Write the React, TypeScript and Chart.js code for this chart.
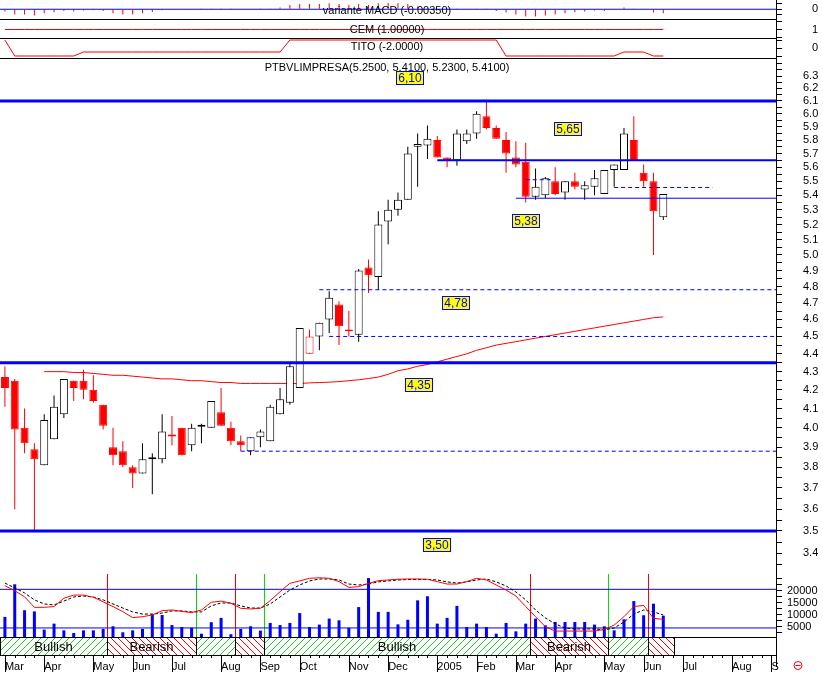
import React, { useEffect, useRef } from 'react';
import { Chart, registerables } from 'chart.js';

Chart.register(...registerables);

// ---------------- data (weekly, index 0 = first week of March 2004) ----------------
const OPEN = [
  4.27, 4.25, 4.00, 3.89, 3.81, 3.94, 4.07, 4.25, 4.25, 4.20,
  4.12, 3.90, 3.88, 3.80, 3.77, 3.84, 3.84, 3.965, 4.00, 3.91,
  4.005, 4.00, 4.08, 4.00, 3.93, 3.88, 3.95, 3.93, 4.07, 4.13,
  4.21, 4.40, 4.50, 4.60, 4.69, 4.54, 4.51, 4.92, 4.86, 5.22,
  5.30, 5.37, 5.75, 5.76, 5.80, 5.67, 5.65, 5.79, 5.85, 5.98,
  5.89, 5.80, 5.67, 5.64, 5.39, 5.40, 5.50, 5.42, 5.50, 5.44,
  5.46, 5.41, 5.58, 5.58, 5.80, 5.56, 5.50, 5.25,
];
const HIGH = [
  4.33, 4.26, 4.10, 3.92, 4.07, 4.17, 4.26, 4.25, 4.31, 4.28,
  4.12, 4.00, 3.93, 3.81, 3.92, 3.87, 4.07, 4.06, 4.00, 4.02,
  4.02, 4.14, 4.21, 4.03, 3.96, 3.95, 3.99, 4.12, 4.21, 4.35,
  4.55, 4.54, 4.58, 4.77, 4.71, 4.65, 4.91, 4.97, 5.29, 5.37,
  5.42, 5.75, 5.85, 5.91, 5.83, 5.67, 5.88, 5.88, 6.02, 6.11,
  5.91, 5.86, 5.79, 5.78, 5.59, 5.53, 5.60, 5.50, 5.56, 5.50,
  5.58, 5.58, 5.62, 5.89, 5.98, 5.62, 5.56, 5.41,
];
const LOW = [
  4.11, 3.60, 3.87, 3.50, 3.81, 3.94, 4.05, 4.14, 4.15, 4.13,
  3.99, 3.81, 3.80, 3.70, 3.77, 3.67, 3.82, 3.91, 3.86, 3.88,
  3.92, 4.00, 4.01, 3.91, 3.88, 3.86, 3.90, 3.93, 4.07, 4.12,
  4.21, 4.40, 4.42, 4.52, 4.45, 4.50, 4.47, 4.76, 4.78, 5.07,
  5.26, 5.37, 5.46, 5.66, 5.67, 5.60, 5.61, 5.77, 5.81, 5.88,
  5.81, 5.56, 5.60, 5.35, 5.37, 5.38, 5.40, 5.37, 5.44, 5.37,
  5.40, 5.41, 5.46, 5.58, 5.65, 5.46, 5.00, 5.23,
];
const CLOSE = [
  4.21, 3.99, 3.92, 3.84, 4.04, 4.11, 4.26, 4.21, 4.20, 4.14,
  4.01, 3.86, 3.81, 3.77, 3.84, 3.85, 3.98, 3.955, 3.86, 4.00,
  4.015, 4.14, 4.01, 3.93, 3.91, 3.95, 3.98, 4.11, 4.15, 4.33,
  4.55, 4.50, 4.58, 4.73, 4.56, 4.53, 4.90, 4.87, 5.20, 5.30,
  5.37, 5.70, 5.77, 5.81, 5.67, 5.65, 5.85, 5.85, 6.00, 5.89,
  5.81, 5.70, 5.62, 5.39, 5.46, 5.52, 5.41, 5.50, 5.46, 5.47,
  5.52, 5.58, 5.62, 5.85, 5.65, 5.50, 5.29, 5.41,
];
const MA_FIRST_WEEK = 4;
const MOVING_AVG = [
  4.30, 4.30, 4.30, 4.295, 4.295, 4.29, 4.285, 4.28, 4.28, 4.275,
  4.27, 4.265, 4.26, 4.26, 4.255, 4.25, 4.25, 4.245, 4.24, 4.24,
  4.235, 4.235, 4.235, 4.235, 4.235, 4.235, 4.235, 4.238, 4.24, 4.242,
  4.245, 4.25, 4.255, 4.262, 4.27, 4.285, 4.305, 4.315, 4.33, 4.34,
  4.355, 4.37, 4.385, 4.40, 4.42, 4.435, 4.45, 4.46, 4.47, 4.48,
  4.49, 4.50, 4.51, 4.52, 4.53, 4.54, 4.55, 4.56, 4.57, 4.58,
  4.59, 4.60, 4.61, 4.615,
];
const VOLUME = [
  9200, 22800, 12000, 11500, 3900, 6400, 3600, 2500, 3600, 3600,
  4200, 5300, 2800, 3600, 4200, 10300, 10000, 5800, 5000, 4700,
  2200, 7000, 8800, 2000, 4200, 5300, 3500, 6700, 5800, 6700,
  10800, 5000, 6000, 8500, 7800, 4700, 13300, 25400, 11300, 11300,
  6100, 8000, 16100, 17800, 6400, 8800, 13800, 5000, 6400, 5000,
  2200, 6700, 3200, 6400, 8500, 5700, 7100, 7100, 7100, 7100,
  6000, 5300, 3600, 8200, 15800, 9900, 14700, 9700,
];
const OSC_FAST = [
  22200, 20100, 17600, 13200, 13200, 13500, 17000, 18300, 18300, 17400,
  15500, 13500, 11400, 8900, 9300, 10000, 11800, 12100, 11500, 11000,
  12100, 15300, 15800, 14900, 12800, 12500, 12800, 16000, 19700, 23200,
  24200, 25300, 25500, 25300, 23900, 21500, 21800, 23200, 24300, 24600,
  24900, 25000, 25000, 24900, 23900, 22900, 22900, 23900, 25300, 24600,
  22500, 20400, 17900, 13500, 9300, 5100, 3300, 3300, 3300, 3300,
  3300, 4000, 5800, 9300, 13500, 14000, 8600, 8200,
];
const OSC_SLOW = [
  23300, 21300, 19200, 16300, 14600, 14200, 15800, 17500, 17900, 17500,
  16300, 14600, 12900, 11300, 10400, 10400, 10800, 11700, 11700, 11300,
  11300, 13800, 15000, 15000, 13800, 12900, 12900, 14600, 17500, 20400,
  22500, 24200, 25000, 25000, 24600, 22900, 22500, 22900, 23800, 24200,
  24600, 24800, 24800, 24800, 24600, 23800, 23300, 23800, 24600, 25000,
  23800, 22100, 19600, 16300, 12100, 8800, 6300, 4600, 4200, 4200,
  4200, 3800, 4600, 7100, 10400, 12100, 11300, 10000,
];
const VOL_LEVELS = [20700, 4600];
const MACD_HIST = [
  -0.0020, -0.0046, -0.0046, -0.0055, -0.0035, -0.0026, -0.0015, -0.0020, -0.0011, -0.0009,
  -0.0015, -0.0035, -0.0046, -0.0046, -0.0035, -0.0024, -0.0009, -0.0006, -0.0004, -0.0003,
  0.0001, 0.0006, 0.0003, 0.0001, -0.0006, -0.0003, 0.0001, 0.0003, 0.0015, 0.0038,
  0.0046, 0.0046, 0.0046, 0.0052, 0.0046, 0.0038, 0.0046, 0.0038, 0.0052, 0.0055,
  0.0052, 0.0046, 0.0024, 0.0010, 0.0004, 0.0006, 0.0006, 0.0004, 0.0003, 0.0001,
  -0.0015, -0.0029, -0.0046, -0.0064, -0.0064, -0.0055, -0.0046, -0.0035, -0.0026, -0.0020,
  -0.0011, -0.0015, -0.0003, 0.0015, 0.0006, -0.0006, -0.0029, -0.0035,
];
const CEM = [
  1, 1, 1, 1, 1, 1, 1, 1, 1, 1, 1, 1, 1, 1, 1, 1, 1, 1, 1, 1,
  1, 1, 1, 1, 1, 1, 1, 1, 1, 1, 1, 1, 1, 1, 1, 1, 1, 1, 1, 1,
  1, 1, 1, 1, 1, 1, 1, 1, 1, 1, 1, 1, 1, 1, 1, 1, 1, 1, 1, 1,
  1, 1, 1, 1, 1, 1, 1, 1,
];
const TITO = [
  2, -2, -2, -2, -2, -2, -2, -2,
  -1, -1, -1, -1, -1, -1, -1, -1, -1, -1, -1, -1, -1, -1, -1, -1, -1, -1, -1, -1, -1,
  2, 2, 2, 2, 2, 2, 2, 2, 2, 2, 2, 2, 2, 2, 2, 2, 2, 2, 2, 2, 2, 2,
  -2, -2, -2, -2, -2, -2, -2, -2, -2, -2, -2, -2,
  -1, -1, -1,
  -2, -2,
];
const MONTH_TICKS = [0, 4, 9, 13, 17, 22, 26, 30, 35, 39, 44, 48, 52, 56, 61, 65, 69, 74, 78];
const MONTH_LABELS = ['Mar', 'Apr', 'May', 'Jun', 'Jul', 'Aug', 'Sep', 'Oct', 'Nov', 'Dec', '2005', 'Feb', 'Mar', 'Apr', 'May', 'Jun', 'Jul', 'Aug', 'S'];
const PRICE_LABELS = [
  '3.4', '3.5', '3.6', '3.7', '3.8', '3.9', '4.0', '4.1', '4.2', '4.3',
  '4.4', '4.5', '4.6', '4.7', '4.8', '4.9', '5.0', '5.1', '5.2', '5.3',
  '5.4', '5.5', '5.6', '5.7', '5.8', '5.9', '6.0', '6.1', '6.2', '6.3',
];
const VOL_TICKS = [2500, 5000, 7500, 10000, 12500, 15000, 17500, 20000, 22500, 25000];
const VOL_LABELS = ['5000', '10000', '15000', '20000'];
const LEVEL_PRICES = [6.1, 5.65, 5.38, 4.35, 3.5];
const LEVEL_FROM = [-0.5, 44, 52, -0.5, -0.5];
const DASH_PRICES = [4.78, 4.5, 3.88, 5.51, 5.455];
const DASH_FROM = [32, 33, 24, 53, 62];
const DASH_TO = [78.47, 78.47, 78.47, 55.8, 72];
const TAG_TEXT = ['6,10', '5,65', '5,38', '4,78', '4,35', '3,50'];
const TAG_PRICE = [6.1, 5.65, 5.38, 4.78, 4.35, 3.5];
const TAG_WEEK = [41.2, 57.3, 53.0, 45.9, 42.1, 44.0];
const TREND_BOUNDS = [-0.5, 10.4, 19.4, 23.4, 26.4, 53.4, 61.4, 65.4, 68.1];
const TREND_STATE = ['Bullish', 'Bearish', 'Bullish', 'Bearish', 'Bullish', 'Bearish', 'Bullish', 'Bearish'];

// ---------------- layout / style ----------------
const FONT = '"Liberation Sans", Arial, Helvetica, sans-serif';
const X_MIN = -0.5;
const X_MAX = 78.47;
const AXIS_W = 47;
const RED = '#FF0000';
const BLUE = '#0000FF';
const BLACK = '#000000';
const LEVEL_WIDTH = [3, 2, 1, 3, 3];
const TAG_DY = [-23, -31.5, 23, 13.5, 22, 14];
const WEEKS = OPEN.map((_, i) => i);
const PRICE_TICKS = [3.35, ...PRICE_LABELS.flatMap((s) => [Number(s), Number(s) + 0.05]), 6.4];

const baseOptions = (scales: any) => ({
  responsive: false,
  maintainAspectRatio: false,
  animation: false,
  events: [],
  layout: { padding: 0, autoPadding: false },
  plugins: { legend: { display: false }, tooltip: { enabled: false }, title: { display: false } },
  datasets: { bar: { grouped: false, inflateAmount: 0 } },
  scales,
});

const hiddenX = () => ({ type: 'linear', min: X_MIN, max: X_MAX, display: false, offset: false, bounds: 'data' });

const rightAxis = (o: any) => ({
  type: o.type || 'linear',
  position: 'right',
  min: o.min,
  max: o.max,
  bounds: 'data',
  offset: false,
  afterBuildTicks: (s: any) => {
    s.ticks = o.ticks.map((v: number) => ({ value: v }));
  },
  afterFit: (s: any) => {
    s.width = AXIS_W;
    s.paddingTop = 0;
    s.paddingBottom = 0;
  },
  grid: { drawOnChartArea: false, drawTicks: true, tickLength: 6, tickColor: BLACK, tickWidth: 1 },
  border: { display: true, color: BLACK, width: 1 },
  ticks: {
    autoSkip: false,
    crossAlign: 'near',
    padding: o.padding,
    color: BLACK,
    font: { family: FONT, size: 11 },
    callback: (v: any) => o.label(Number(v)),
  },
});

const panelRule = {
  id: 'panelRule',
  afterDraw(chart: any) {
    const { ctx, chartArea: a } = chart;
    ctx.save();
    ctx.strokeStyle = BLACK;
    ctx.lineWidth = 1;
    ctx.beginPath();
    ctx.moveTo(0, a.bottom - 0.5);
    ctx.lineTo(a.right, a.bottom - 0.5);
    ctx.stroke();
    ctx.restore();
  },
};

const caption = (text: string, y: number) => ({
  id: 'caption',
  afterDraw(chart: any) {
    const { ctx, chartArea: a } = chart;
    ctx.save();
    ctx.font = `11px ${FONT}`;
    ctx.fillStyle = BLACK;
    ctx.textAlign = 'center';
    ctx.textBaseline = 'middle';
    ctx.fillText(text, (a.left + a.right) / 2 - 1, y);
    ctx.restore();
  },
});

const levelTags = {
  id: 'levelTags',
  afterDatasetsDraw(chart: any) {
    const { ctx, scales } = chart;
    ctx.save();
    ctx.font = `12px ${FONT}`;
    TAG_TEXT.forEach((t, k) => {
      const cx = scales.x.getPixelForValue(TAG_WEEK[k]);
      const cy = scales.y.getPixelForValue(TAG_PRICE[k]) + TAG_DY[k];
      const w = Math.round(ctx.measureText(t).width) + 5;
      const h = 14;
      const bx = Math.round(cx - w / 2);
      const by = Math.round(cy - h / 2);
      ctx.fillStyle = '#FFFF00';
      ctx.fillRect(bx, by, w, h);
      ctx.strokeStyle = BLUE;
      ctx.lineWidth = 1;
      ctx.strokeRect(bx + 0.5, by + 0.5, w - 1, h - 1);
      ctx.fillStyle = BLUE;
      ctx.textAlign = 'center';
      ctx.textBaseline = 'middle';
      ctx.fillText(t, bx + w / 2, by + h / 2 + 0.5);
    });
    ctx.restore();
  },
};

const signalLines = {
  id: 'signalLines',
  beforeDatasetsDraw(chart: any) {
    const { ctx, chartArea: a, scales } = chart;
    ctx.save();
    ctx.lineWidth = 1;
    for (let k = 1; k < TREND_BOUNDS.length - 1; k++) {
      const px = Math.round(scales.x.getPixelForValue(TREND_BOUNDS[k])) + 0.5;
      ctx.strokeStyle = TREND_STATE[k] === 'Bearish' ? RED : '#00E000';
      ctx.beginPath();
      ctx.moveTo(px, a.top);
      ctx.lineTo(px, a.bottom);
      ctx.stroke();
    }
    ctx.restore();
  },
};

const trendBand = {
  id: 'trendBand',
  afterDraw(chart: any) {
    const { ctx, chartArea: a, scales } = chart;
    const xs = scales.x;
    const top = Math.round(a.bottom);
    const bot = top + 18;
    const h = bot - top;
    ctx.save();
    ctx.lineWidth = 1;
    for (let k = 0; k < TREND_STATE.length; k++) {
      const x0 = Math.round(xs.getPixelForValue(TREND_BOUNDS[k]));
      const x1 = Math.round(xs.getPixelForValue(TREND_BOUNDS[k + 1]));
      const bull = TREND_STATE[k] === 'Bullish';
      ctx.save();
      ctx.beginPath();
      ctx.rect(x0, top, x1 - x0, h);
      ctx.clip();
      ctx.strokeStyle = bull ? '#22CC22' : RED;
      for (let sx = x0 - h; sx < x1 + h; sx += 7) {
        ctx.beginPath();
        if (bull) {
          ctx.moveTo(sx, bot);
          ctx.lineTo(sx + h, top);
        } else {
          ctx.moveTo(sx, top);
          ctx.lineTo(sx + h, bot);
        }
        ctx.stroke();
      }
      ctx.restore();
      ctx.strokeStyle = BLACK;
      ctx.strokeRect(x0 + 0.5, top + 0.5, x1 - x0, h);
      ctx.font = `13px ${FONT}`;
      const tw = ctx.measureText(TREND_STATE[k]).width;
      if (x1 - x0 > tw + 8) {
        ctx.fillStyle = BLACK;
        ctx.textAlign = 'center';
        ctx.textBaseline = 'middle';
        ctx.fillText(TREND_STATE[k], (x0 + x1) / 2, (top + bot) / 2 + 1);
      }
    }
    // frame lines of the band row
    ctx.strokeStyle = BLACK;
    ctx.beginPath();
    ctx.moveTo(0, top + 0.5);
    ctx.lineTo(a.right, top + 0.5);
    ctx.moveTo(0, bot + 0.5);
    ctx.lineTo(a.right, bot + 0.5);
    ctx.stroke();
    // weekly and monthly tick marks
    ctx.beginPath();
    for (let w = 0; w <= Math.floor(X_MAX); w++) {
      const px = Math.round(xs.getPixelForValue(w)) + 0.5;
      const len = MONTH_TICKS.includes(w) ? 17 : 3;
      ctx.moveTo(px, bot);
      ctx.lineTo(px, bot + len);
    }
    ctx.stroke();
    // axis line extension
    const ax = Math.round(scales.y.left) + 0.5;
    ctx.beginPath();
    ctx.moveTo(ax, a.bottom);
    ctx.lineTo(ax, bot + 12);
    ctx.stroke();
    // small red marker
    ctx.strokeStyle = RED;
    ctx.beginPath();
    ctx.arc(798, bot + 10.5, 4, 0, Math.PI * 2);
    ctx.moveTo(795.5, bot + 10.5);
    ctx.lineTo(800.5, bot + 10.5);
    ctx.stroke();
    ctx.restore();
  },
};

// ---------------- chart configs ----------------
function macdConfig() {
  return {
    type: 'bar',
    data: {
      datasets: [
        { type: 'line', data: [{ x: X_MIN, y: 0 }, { x: X_MAX, y: 0 }], borderColor: BLUE, borderWidth: 1, pointRadius: 0, order: 0 },
        { type: 'bar', data: MACD_HIST.map((v, i) => ({ x: i, y: v })), backgroundColor: RED, borderWidth: 0, barThickness: 1, inflateAmount: 0, order: 1 },
      ],
    },
    options: baseOptions({
      x: hiddenX(),
      y: rightAxis({ min: -0.0094, max: 0.0081, ticks: [-0.005, 0, 0.005], label: (v: number) => (v === 0 ? '0' : ''), padding: 30 }),
    }),
    plugins: [panelRule, caption('variante MACD (-0.00350)', 10.5)],
  };
}

function cemConfig() {
  return {
    type: 'line',
    data: {
      datasets: [
        { data: CEM.map((v, i) => ({ x: i, y: v })), borderColor: RED, borderWidth: 1, pointRadius: 0 },
      ],
    },
    options: baseOptions({
      x: hiddenX(),
      y: rightAxis({ min: 0, max: 2, ticks: [0.2, 1, 1.8], label: (v: number) => (v === 1 ? '1' : ''), padding: 30 }),
    }),
    plugins: [panelRule, caption('CEM (1.00000)', 9.5)],
  };
}

function titoConfig() {
  return {
    type: 'line',
    data: {
      datasets: [
        { data: TITO.map((v, i) => ({ x: i, y: v })), borderColor: RED, borderWidth: 1, pointRadius: 0 },
      ],
    },
    options: baseOptions({
      x: hiddenX(),
      y: rightAxis({ min: -2.75, max: 2.25, ticks: [-2, 0, 2], label: (v: number) => (v === 0 ? '0' : ''), padding: 30 }),
    }),
    plugins: [panelRule, caption('TITO (-2.0000)', 8)],
  };
}

function priceConfig() {
  const prevClose = (i: number) => (i > 0 ? CLOSE[i - 1] : OPEN[i]);
  const tone = WEEKS.map((i) => (CLOSE[i] < prevClose(i) ? RED : BLACK));
  const fill = WEEKS.map((i) => (CLOSE[i] >= OPEN[i] ? '#FFFFFF' : tone[i]));
  const levelSets = LEVEL_PRICES.map((p, k) => ({
    type: 'line',
    data: [{ x: LEVEL_FROM[k], y: p }, { x: X_MAX, y: p }],
    borderColor: BLUE,
    borderWidth: LEVEL_WIDTH[k],
    pointRadius: 0,
    order: 0,
  }));
  const dashSets = DASH_PRICES.map((p, k) => ({
    type: 'line',
    data: [{ x: DASH_FROM[k], y: p }, { x: DASH_TO[k], y: p }],
    borderColor: BLUE,
    borderWidth: 1,
    borderDash: [4, 3],
    pointRadius: 0,
    order: 0,
  }));
  return {
    type: 'bar',
    data: {
      datasets: [
        ...levelSets,
        ...dashSets,
        {
          type: 'bar',
          data: WEEKS.map((i) => ({ x: i, y: [OPEN[i], CLOSE[i]] })),
          backgroundColor: fill,
          borderColor: tone,
          borderWidth: 1,
          borderSkipped: false,
          barThickness: 8,
          inflateAmount: 0,
          order: 1,
        },
        {
          type: 'bar',
          data: WEEKS.map((i) => ({ x: i, y: [LOW[i], HIGH[i]] })),
          backgroundColor: tone,
          borderWidth: 0,
          barThickness: 1,
          inflateAmount: 0,
          order: 2,
        },
        {
          type: 'line',
          data: MOVING_AVG.map((v, k) => ({ x: k + MA_FIRST_WEEK, y: v })),
          borderColor: RED,
          borderWidth: 1,
          pointRadius: 0,
          order: 3,
        },
      ],
    },
    options: baseOptions({
      x: hiddenX(),
      y: rightAxis({
        type: 'logarithmic',
        min: 3.3108,
        max: 6.44,
        ticks: PRICE_TICKS,
        label: (v: number) => {
          const s = v.toFixed(1);
          return Math.abs(v - Number(s)) < 1e-6 && PRICE_LABELS.includes(s) ? s : '';
        },
        padding: 21,
      }),
    }),
    plugins: [caption('PTBVLIMPRESA(5.2500, 5.4100, 5.2300, 5.4100)', 8.5), levelTags],
  };
}

function volumeConfig() {
  return {
    type: 'bar',
    data: {
      datasets: [
        { type: 'line', data: OSC_FAST.map((v, i) => ({ x: i, y: v })), borderColor: RED, borderWidth: 1, pointRadius: 0, order: 0 },
        { type: 'line', data: OSC_SLOW.map((v, i) => ({ x: i, y: v })), borderColor: BLACK, borderWidth: 1, borderDash: [3, 2], pointRadius: 0, order: 1 },
        ...VOL_LEVELS.map((v) => ({
          type: 'line',
          data: [{ x: X_MIN, y: v }, { x: X_MAX, y: v }],
          borderColor: BLUE,
          borderWidth: 1,
          pointRadius: 0,
          order: 2,
        })),
        { type: 'bar', data: VOLUME.map((v, i) => ({ x: i, y: v })), backgroundColor: BLUE, borderWidth: 0, barThickness: 3, inflateAmount: 0, order: 3 },
      ],
    },
    options: baseOptions({
      x: {
        type: 'linear',
        min: X_MIN,
        max: X_MAX,
        position: 'bottom',
        offset: false,
        bounds: 'data',
        afterBuildTicks: (s: any) => {
          s.ticks = MONTH_TICKS.map((v) => ({ value: v }));
        },
        afterFit: (s: any) => {
          s.height = 36;
          s.paddingLeft = 0;
          s.paddingRight = 0;
        },
        grid: { display: false, drawTicks: false, tickLength: 0, drawOnChartArea: false },
        border: { display: false },
        ticks: {
          autoSkip: false,
          maxRotation: 0,
          minRotation: 0,
          align: 'start',
          padding: 23,
          color: BLACK,
          font: { family: FONT, size: 11 },
          callback: (v: any) => {
            const k = MONTH_TICKS.indexOf(Number(v));
            return k >= 0 ? MONTH_LABELS[k] : '';
          },
        },
      },
      y: rightAxis({
        min: 833,
        max: 27083,
        ticks: VOL_TICKS,
        label: (v: number) => (VOL_LABELS.includes(String(v)) ? String(v) : ''),
        padding: 5,
      }),
    }),
    plugins: [signalLines, trendBand],
  };
}

function ChartCanvas({ top, height, build }: { top: number; height: number; build: () => any }) {
  const ref = useRef<HTMLCanvasElement>(null);
  useEffect(() => {
    const chart = new Chart(ref.current as HTMLCanvasElement, build());
    return () => chart.destroy();
  }, []);
  return (
    <canvas
      ref={ref}
      width={823}
      height={height}
      style={{ position: 'absolute', left: 0, top, width: 823, height, display: 'block' }}
    />
  );
}

export default function App() {
  return (
    <div style={{ position: 'absolute', left: 0, top: 0, width: 823, height: 673, background: '#FFFFFF', overflow: 'hidden' }}>
      <ChartCanvas top={0} height={20} build={macdConfig} />
      <ChartCanvas top={20} height={19} build={cemConfig} />
      <ChartCanvas top={39} height={20} build={titoConfig} />
      <ChartCanvas top={59} height={515} build={priceConfig} />
      <ChartCanvas top={574} height={99} build={volumeConfig} />
    </div>
  );
}
